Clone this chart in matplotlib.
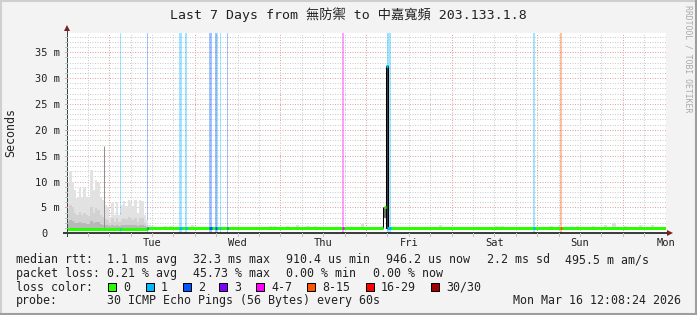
import numpy as np
import matplotlib.pyplot as plt
from matplotlib.patches import Rectangle
from matplotlib.lines import Line2D
from matplotlib.transforms import blended_transform_factory

plt.rcParams['font.family'] = ['DejaVu Sans Mono', 'Noto Sans CJK TC']

W, H = 697, 315

# time axis: days since Mon 2026-03-09 00:00, graph ends Mon Mar 16 12:08:24
t_start, t_end = 0.5058, 7.5058
day_pos = [1.5, 2.5, 3.5, 4.5, 5.5, 6.5, 7.5]
day_labels = ['Tue', 'Wed', 'Thu', 'Fri', 'Sat', 'Sun', 'Mon']

# y axis in ms
y_max = 38.8
y_ticks = [0, 5, 10, 15, 20, 25, 30, 35]
y_labels = ['0', '5 m', '10 m', '15 m', '20 m', '25 m', '30 m', '35 m']

# median rtt (ms), flat segments
med_start = [t_start, 1.45, 4.252]
med_end = [1.45, 4.203, t_end]
med_ms = [0.88, 0.95, 0.97]

# spike around Thu/Fri midnight
spike_t = [4.205, 4.228]
spike_hi = [5.0, 32.3]
spike_lo = [3.0, 0.95]
spike_loss = ['0', '1']

# loss events: time (days), duration (days), loss class
loss_t = [1.13, 1.435, 1.82, 1.886, 2.166, 2.235, 2.259, 2.294, 2.375, 3.716, 4.25, 5.953, 6.268]
loss_dur = [0.012, 0.012, 0.035, 0.023, 0.029, 0.023, 0.012, 0.012, 0.012, 0.023, 0.047, 0.023, 0.023]
loss_cls = ['1', '2', '1', '1', '2', '2', '1', '1', '2', '4-7', '1', '1', '8-15']

loss_names = ['0', '1', '2', '3', '4-7', '8-15', '16-29', '30/30']
loss_colors = ['#26ff00', '#00b8ff', '#0059ff', '#7e00ff', '#ff00ff', '#ff5500', '#ff0000', '#a10000']
lc = dict(zip(loss_names, loss_colors))

# smoke during the first day (ms), bins of ~40 min
smoke_top = [9.7, 12.0, 10.0, 8.4, 6.8, 8.7, 7.0, 8.7, 7.0, 7.0, 12.2, 8.4, 10.3, 9.7,
             7.1, 6.5, 5.5, 4.8, 3.2, 5.8, 3.5, 6.1, 3.5, 5.5, 6.3, 5.2, 6.5, 6.3,
             5.2, 6.5, 3.9, 6.5, 6.3, 3.5, 2.6, 1.6, 1.4]
smoke_mid = [4.5, 5.5, 5.0, 4.0, 3.5, 4.2, 3.6, 4.0, 3.5, 3.4, 5.0, 4.0, 4.8, 4.5,
             3.5, 3.2, 2.8, 2.6, 2.0, 3.0, 2.2, 3.0, 2.2, 2.8, 3.0, 2.7, 3.1, 3.0,
             2.6, 3.0, 2.2, 3.0, 2.9, 2.0, 1.7, 1.3, 1.2]
smoke_low = [2.2, 2.5, 2.3, 2.0, 1.9, 2.1, 1.9, 2.0, 1.8, 1.8, 2.4, 2.0, 2.2, 2.1,
             1.8, 1.7, 1.6, 1.6, 1.4, 1.7, 1.5, 1.7, 1.5, 1.6, 1.7, 1.6, 1.7, 1.7,
             1.6, 1.7, 1.5, 1.7, 1.6, 1.4, 1.3, 1.1, 1.1]
smoke_spike_t, smoke_spike_ms = 0.934, 16.8

# small smoke bumps later in the week
bump_t = [1.64, 1.70, 1.955, 2.865, 2.91, 3.06, 3.18, 3.30, 3.39, 3.94, 4.17, 4.85,
          5.51, 5.57, 6.14, 6.24, 6.45, 6.64, 6.78, 6.88, 7.01, 7.19, 7.33]
bump_ms = [1.4, 1.35, 1.6, 1.5, 1.45, 1.5, 1.55, 1.5, 1.5, 1.8, 1.4, 1.6,
           1.5, 1.45, 1.4, 1.5, 1.45, 1.5, 1.6, 1.9, 1.5, 1.6, 1.7]

fig = plt.figure(figsize=(W / 100, H / 100), dpi=100, facecolor='#f3f3f3')
ax = fig.add_axes([67 / W, 1 - 233.3 / H, 599 / W, 200.8 / H])
ax.set_facecolor('white')
ax.set_xlim(t_start, t_end)
ax.set_ylim(0, y_max)

px = 1 / 85.8  # one pixel in days
LW = 0.72  # one pixel in points

# grid
for d in np.arange(0.75, 7.5, 0.25):
    major = abs(d - round(d)) < 1e-6
    ax.axvline(d, color='#e8a0a0' if major else '#cccccc', lw=LW,
               ls=(0, (1, 1.5)), zorder=1)
for v in range(1, 39):
    ax.axhline(v, color='#e8a0a0' if v % 5 == 0 else '#cccccc', lw=LW,
               ls=(0, (1, 1.5)), zorder=1)

# loss background bars
for t, d, c in zip(loss_t, loss_dur, loss_cls):
    ax.axvspan(t, t + d, color=lc[c], alpha=0.37, lw=0, zorder=2)

# smoke
n = len(smoke_top)
edges = t_start + np.arange(n + 1) * 0.0272
ax.stairs(smoke_top, edges, baseline=0.7, fill=True, color='#e2e2e2', zorder=3)
ax.stairs(smoke_mid, edges, baseline=0.7, fill=True, color='#d2d2d2', zorder=3)
ax.stairs(smoke_low, edges, baseline=0.7, fill=True, color='#b8b8b8', zorder=3)
ax.vlines(smoke_spike_t, 0.7, smoke_spike_ms, color='#909090', lw=LW, zorder=3)
for t, h in zip(bump_t, bump_ms):
    ax.fill_between([t, t + 0.04], 0.7, h, color='#dcdcdc', lw=0, zorder=3)

# spike
for t, hi, lo, c in zip(spike_t, spike_hi, spike_lo, spike_loss):
    w = 2 * px
    if c == '0':
        ax.add_patch(Rectangle((t, lo), w, hi - lo, facecolor='#707070', lw=0, zorder=4))
        ax.vlines(t - 0.5 * px, 0.95, hi, color='black', lw=LW, zorder=5)
    else:
        ax.add_patch(Rectangle((t, lo), w, hi - lo, facecolor='#3a3a3a',
                               edgecolor='black', lw=LW, zorder=4))
    ax.hlines(hi, t, t + w, color=lc[c], lw=3 * LW, zorder=6)

# median line
for s, e, v in zip(med_start, med_end, med_ms):
    ax.hlines(v, s, e, color=lc['0'], lw=3 * LW, zorder=6)
for t, d, c in zip(loss_t, loss_dur, loss_cls):
    v = np.interp(t, med_start, med_ms)
    ax.hlines(v, t, t + max(d, px), color=lc[c], lw=3 * LW, zorder=7)

# axes
for s in ax.spines.values():
    s.set_visible(False)
ax.plot([t_start - 4 * px, t_end + 2 * px], [0, 0], color='black', lw=1.5 * LW,
        clip_on=False, zorder=8, solid_capstyle='butt')
ax.plot([t_start, t_start], [-0.5, y_max + 0.2], color='#2c4d43', lw=LW,
        clip_on=False, zorder=8)
ax.plot([t_start], [y_max + 0.9], marker='^', ms=4.5, color='#7f1f1f', mew=0,
        clip_on=False, zorder=9)
ax.plot([t_end + 4 * px], [0], marker='>', ms=4.5, color='#7f1f1f', mew=0,
        clip_on=False, zorder=9)

ax.set_xticks([])
ax.set_yticks([])
bx = blended_transform_factory(ax.transData, fig.transFigure)
by = blended_transform_factory(fig.transFigure, ax.transData)
for p, lab in zip(day_pos, day_labels):
    ax.text(p, 1 - 246 / H, lab, transform=bx, ha='center', va='baseline',
            fontsize=7.5, color='#222222')
for d in np.arange(0.75, 7.5, 0.25):
    ax.plot([d, d], [0, -0.45], color='#c0c0c0', lw=LW, clip_on=False, zorder=8)
for v, lab in zip(y_ticks, y_labels):
    # rrdtool pads the unitless zero label with two blanks
    xr = 60 if lab.endswith('m') else 47.5
    ax.text(xr / W, v, lab, transform=by, ha='right', va='center_baseline',
            fontsize=7.5, color='#222222')
for v in range(1, 39):
    ax.plot([t_start - 2.5 * px, t_start], [v, v],
            color='#e8a0a0' if v % 5 == 0 else '#c0c0c0', lw=LW, clip_on=False, zorder=8)


def ftext(x, y, s, **kw):
    fig.text(x / W, 1 - y / H, s, va='baseline', **kw)


ftext(348.5, 19, 'Last 7 Days from 無防禦 to 中嘉寬頻 203.133.1.8', ha='center',
      fontsize=9.5, color='#222222')
fig.text(11 / W, 1 - 132 / H, 'Seconds', rotation=90, ha='center', va='center',
         fontsize=8.4, color='#222222')
fig.text(688 / W, 1 - 59 / H, 'RRDTOOL / TOBI OETIKER', rotation=270, ha='center',
         va='center', fontsize=5.9, color='#aaaaaa')

fs = 8.4
col = '#222222'
ftext(16, 263.3, 'median rtt:', fontsize=fs, color=col)
for x, s in zip([107.3, 193.3, 286, 386, 486.7, 565],
                ['1.1 ms avg', '32.3 ms max', '910.4 us min', '946.2 us now',
                 '2.2 ms sd', '495.5 m am/s']):
    ftext(x, 263.3, s, fontsize=fs, color=col)
ftext(16, 277, 'packet loss:', fontsize=fs, color=col)
for x, s in zip([107.3, 193.3, 286, 373.3],
                ['0.21 % avg', '45.73 % max', '0.00 % min', '0.00 % now']):
    ftext(x, 277, s, fontsize=fs, color=col)
ftext(16, 290.7, 'loss color:', fontsize=fs, color=col)
box_x = [108.3, 145.7, 182.7, 219.3, 256, 307, 365.7, 431]
for bxp, name, c in zip(box_x, loss_names, loss_colors):
    fig.add_artist(Rectangle((bxp / W, 1 - 291 / H), 8 / W, 8 / H, facecolor=c,
                             edgecolor='black', lw=LW, transform=fig.transFigure))
    ftext(bxp + 15, 290.7, name, fontsize=fs, color=col)
ftext(16, 304.3, 'probe:', fontsize=fs, color=col)
ftext(107.3, 304.3, '30 ICMP Echo Pings (56 Bytes) every 60s', fontsize=fs, color=col)
ftext(513.3, 304.3, 'Mon Mar 16 12:08:24 2026', fontsize=fs, color=col)

# 3D frame
fig.add_artist(Line2D([0, 1], [1 - 1 / H, 1 - 1 / H], color='#cfcfcf', lw=1.5,
                      transform=fig.transFigure))
fig.add_artist(Line2D([1 / W, 1 / W], [0, 1], color='#cfcfcf', lw=1.5,
                      transform=fig.transFigure))
fig.add_artist(Line2D([0, 1], [1 / H, 1 / H], color='#9e9e9e', lw=1.5,
                      transform=fig.transFigure))
fig.add_artist(Line2D([1 - 1 / W, 1 - 1 / W], [0, 1], color='#9e9e9e', lw=1.5,
                      transform=fig.transFigure))

fig.savefig('out.png', dpi=100, facecolor=fig.get_facecolor())
